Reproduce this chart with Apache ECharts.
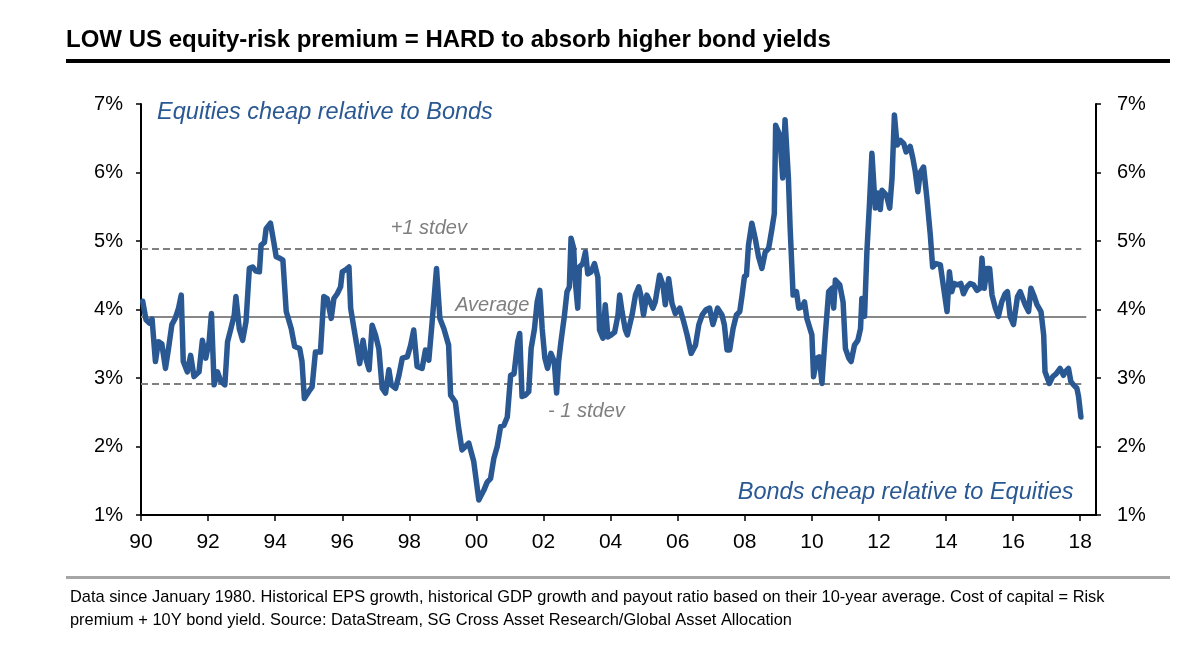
<!DOCTYPE html>
<html>
<head>
<meta charset="utf-8">
<script src="https://cdn.jsdelivr.net/npm/echarts@6/dist/echarts.min.js"></script>
<style>
html,body{margin:0;padding:0;background:#fff;}
#chart{width:1200px;height:651px;}
</style>
</head>
<body>
<div id="chart"></div>
<script>
// ---- Data ----
const dates = [
1990.05,1990.15,1990.25,1990.33,1990.43,1990.52,1990.62,1990.73,1990.82,1990.92,
1991.02,1991.12,1991.20,1991.26,1991.38,1991.48,1991.58,1991.73,1991.83,1991.93,
1992.03,1992.10,1992.18,1992.28,1992.38,1992.50,1992.58,1992.68,1992.78,1992.83,
1992.93,1993.03,1993.13,1993.23,1993.33,1993.43,1993.53,1993.58,1993.68,1993.73,
1993.86,1993.96,1994.03,1994.13,1994.23,1994.33,1994.48,1994.58,1994.73,1994.80,
1994.87,1995.00,1995.10,1995.20,1995.35,1995.45,1995.55,1995.67,1995.75,1995.85,
1995.95,1996.00,1996.10,1996.20,1996.25,1996.35,1996.45,1996.52,1996.62,1996.70,
1996.80,1996.89,1996.99,1997.09,1997.19,1997.29,1997.39,1997.46,1997.59,1997.69,
1997.79,1997.94,1998.04,1998.13,1998.23,1998.38,1998.48,1998.58,1998.68,1998.81,
1998.91,1999.03,1999.17,1999.23,1999.37,1999.47,1999.57,1999.67,1999.77,1999.92,
2000.07,2000.22,2000.32,2000.42,2000.52,2000.62,2000.72,2000.82,2000.92,2001.02,
2001.12,2001.23,2001.29,2001.36,2001.46,2001.56,2001.63,2001.73,2001.81,2001.89,
2001.96,2002.04,2002.12,2002.22,2002.32,2002.39,2002.45,2002.52,2002.62,2002.70,
2002.77,2002.82,2002.90,2002.94,2003.02,2003.07,2003.17,2003.25,2003.32,2003.42,
2003.52,2003.62,2003.67,2003.77,2003.84,2003.92,2004.02,2004.12,2004.22,2004.27,
2004.34,2004.44,2004.50,2004.64,2004.74,2004.84,2004.90,2004.98,2005.08,2005.18,
2005.26,2005.33,2005.46,2005.56,2005.63,2005.73,2005.83,2005.93,2006.06,2006.18,
2006.28,2006.40,2006.53,2006.63,2006.73,2006.85,2006.95,2007.05,2007.19,2007.32,
2007.39,2007.47,2007.55,2007.65,2007.75,2007.85,2007.92,2007.99,2008.05,2008.11,
2008.21,2008.31,2008.41,2008.51,2008.61,2008.71,2008.81,2008.88,2008.92,2009.04,
2009.13,2009.20,2009.30,2009.35,2009.44,2009.54,2009.61,2009.71,2009.78,2009.85,
2010.00,2010.05,2010.15,2010.22,2010.30,2010.40,2010.50,2010.60,2010.65,2010.70,
2010.83,2010.93,2011.00,2011.10,2011.17,2011.27,2011.37,2011.45,2011.49,2011.57,
2011.64,2011.72,2011.79,2011.89,2011.97,2012.04,2012.09,2012.22,2012.32,2012.39,
2012.46,2012.54,2012.64,2012.74,2012.81,2012.93,2013.01,2013.08,2013.16,2013.23,
2013.33,2013.43,2013.53,2013.60,2013.70,2013.83,2013.93,2014.03,2014.10,2014.17,
2014.24,2014.34,2014.44,2014.52,2014.62,2014.72,2014.82,2014.92,2015.02,2015.07,
2015.14,2015.22,2015.30,2015.37,2015.47,2015.56,2015.66,2015.76,2015.83,2015.91,
2016.01,2016.13,2016.21,2016.36,2016.46,2016.53,2016.63,2016.71,2016.83,2016.91,
2016.95,2017.08,2017.18,2017.28,2017.40,2017.50,2017.55,2017.65,2017.72,2017.80,
2017.90,2017.95,2018.02
];
const erp = [
4.12,3.85,3.80,3.86,3.24,3.53,3.50,3.14,3.43,3.78,
3.87,4.02,4.21,3.24,3.09,3.33,3.02,3.09,3.55,3.29,
3.53,3.94,2.90,3.09,2.95,2.90,3.53,3.72,3.92,4.19,
3.72,3.55,3.82,4.60,4.62,4.56,4.55,4.94,4.98,5.18,
5.26,4.98,4.77,4.75,4.72,3.97,3.72,3.46,3.43,3.24,
2.70,2.80,2.87,3.38,3.38,4.19,4.16,3.87,4.16,4.23,
4.33,4.55,4.58,4.62,4.02,3.72,3.43,3.21,3.55,3.29,
3.12,3.77,3.63,3.43,2.85,2.78,3.12,2.90,2.85,3.04,
3.29,3.31,3.48,3.70,3.17,3.14,3.41,3.26,3.82,4.60,
3.87,3.72,3.48,2.75,2.65,2.27,1.95,2.00,2.05,1.78,
1.22,1.36,1.48,1.53,1.83,2.00,2.29,2.31,2.43,3.04,
3.06,3.53,3.65,2.73,2.75,2.80,3.43,3.72,4.11,4.28,
3.72,3.29,3.14,3.36,3.24,2.78,3.24,3.53,3.90,4.26,
4.33,5.04,4.89,4.45,4.02,4.62,4.67,4.84,4.52,4.55,
4.67,4.47,3.70,3.58,4.07,3.60,3.63,3.67,3.92,4.21,
3.97,3.70,3.63,3.92,4.21,4.33,4.21,3.92,4.21,4.11,
4.02,4.11,4.50,4.36,4.07,4.45,4.09,3.94,4.02,3.82,
3.63,3.36,3.48,3.78,3.92,4.00,4.02,3.78,4.02,3.92,
3.78,3.41,3.41,3.72,3.92,3.97,4.21,4.48,4.50,4.94,
5.26,5.04,4.77,4.60,4.84,4.89,5.18,5.40,6.69,6.55,
5.92,6.77,5.92,5.21,4.21,4.26,4.02,4.04,4.11,3.87,
3.63,3.02,3.29,3.31,2.92,3.63,4.26,4.31,4.02,4.43,
4.36,4.11,3.43,3.29,3.24,3.48,3.55,3.72,4.16,3.90,
4.84,5.57,6.28,5.48,5.70,5.46,5.74,5.67,5.48,5.92,
6.84,6.40,6.47,6.42,6.30,6.38,6.21,6.02,5.72,6.00,
6.08,5.62,5.09,4.62,4.67,4.65,4.31,3.97,4.55,4.26,
4.38,4.36,4.38,4.23,4.33,4.38,4.36,4.28,4.31,4.75,
4.31,4.60,4.60,4.21,4.02,3.90,4.11,4.23,4.26,3.90,
3.78,4.19,4.26,4.07,3.97,4.31,4.19,4.07,3.97,3.63,
3.09,2.92,3.02,3.06,3.14,3.04,3.09,3.14,2.95,2.90,
2.85,2.73,2.43
];
const average = 3.90;
const plusStdev = 4.88;
const minusStdev = 2.92;
const xTicks = [1990,1992,1994,1996,1998,2000,2002,2004,2006,2008,2010,2012,2014,2016,2018];

const blue = '#2a5893';
const grey = '#7f7f7f';
const font = '"Liberation Sans", Arial, sans-serif';

const chart = echarts.init(document.getElementById('chart'), null, {renderer:'canvas'});
const lineData = dates.map((d,i)=>[d, erp[i]]);
const yLabel = v => v + '%';

const yAxisBase = (pos, margin) => ({
  type:'value', position:pos, min:1, max:7, interval:1,
  axisLine:{show:true, lineStyle:{color:'#000', width:2}},
  axisTick:{show:true, inside:false, length:5, lineStyle:{color:'#000', width:1.5}},
  splitLine:{show:false},
  axisLabel:{formatter:yLabel, color:'#000', fontSize:20, fontFamily:font, margin:margin}
});

chart.setOption({
  animation:false,
  backgroundColor:'#fff',
  grid:{left:141, right:104, top:104, bottom:136, containLabel:false},
  xAxis:{
    type:'value', min:1990, max:2018.47,
    axisLine:{show:true, onZero:false, lineStyle:{color:'#000', width:2}},
    axisTick:{show:true, length:6, customValues:xTicks, lineStyle:{color:'#000', width:1.5}},
    axisLabel:{customValues:xTicks, color:'#000', fontSize:21, fontFamily:font, margin:17,
      formatter:v=>String(Math.round(v)%100).padStart(2,'0')},
    splitLine:{show:false}
  },
  yAxis:[yAxisBase('left',18), yAxisBase('right',21)],
  series:[
    {
      type:'line', yAxisIndex:0, data:[], silent:true,
      markLine:{
        symbol:'none', silent:true, animation:false,
        label:{show:false},
        data:[
          [{coord:[1990,average], lineStyle:{type:'solid', color:'#888', width:2}},{coord:[2018.18,average]}],
          [{coord:[1990,plusStdev], lineStyle:{type:[7,4], color:'#808080', width:2}},{coord:[2018.03,plusStdev]}],
          [{coord:[1990,minusStdev], lineStyle:{type:[7,4], color:'#808080', width:2}},{coord:[2018.03,minusStdev]}]
        ]
      }
    },
    {
      type:'line', yAxisIndex:0, data:lineData, showSymbol:false, smooth:false,
      lineStyle:{color:blue, width:5.5, join:'round', cap:'round'},
      z:5
    }
  ]
});

// annotation texts positioned from data coordinates
function px(x,y){ return chart.convertToPixel({xAxisIndex:0, yAxisIndex:0},[x,y]); }
const pPlus = px(1998.58, plusStdev);
const pAvg = px(2000.47, average);
const pMinus = px(2003.28, minusStdev);
const pTop = px(1990.48, 6.88);
const pBot = px(2017.8, 1.33);

chart.setOption({
  graphic:[
    {type:'text', left:66, top:28, style:{text:'LOW US equity-risk premium = HARD to absorb higher bond yields', font:'bold 24px ' + font, fill:'#000'}},
    {type:'rect', shape:{x:66, y:59, width:1104, height:4}, style:{fill:'#000'}},
    {type:'rect', shape:{x:66, y:576, width:1104, height:3}, style:{fill:'#a6a6a6'}},
    {type:'text', left:70, top:589, style:{text:'Data since January 1980. Historical EPS growth, historical GDP growth and payout ratio based on their 10-year average. Cost of capital = Risk', font:'16.4px ' + font, fill:'#000'}},
    {type:'text', left:70, top:612, style:{text:'premium + 10Y bond yield. Source: DataStream, SG Cross Asset Research/Global Asset Allocation', font:'16.4px ' + font, fill:'#000'}},
    {type:'text', x:pTop[0], y:pTop[1], style:{text:'Equities cheap relative to Bonds', font:'italic 23.5px ' + font, fill:blue, textAlign:'left', textVerticalAlign:'middle'}},
    {type:'text', x:pBot[0], y:pBot[1], style:{text:'Bonds cheap relative to Equities', font:'italic 23.5px ' + font, fill:blue, textAlign:'right', textVerticalAlign:'middle'}},
    {type:'text', x:pPlus[0], y:pPlus[1]-21, style:{text:'+1 stdev', font:'italic 20px ' + font, fill:grey, textAlign:'center', textVerticalAlign:'middle'}},
    {type:'text', x:pAvg[0], y:pAvg[1]-11, style:{text:'Average', font:'italic 20px ' + font, fill:grey, textAlign:'center', textVerticalAlign:'middle'}},
    {type:'text', x:pMinus[0], y:pMinus[1]+28, style:{text:'- 1 stdev', font:'italic 20px ' + font, fill:grey, textAlign:'center', textVerticalAlign:'middle'}}
  ]
});
</script>
</body>
</html>
